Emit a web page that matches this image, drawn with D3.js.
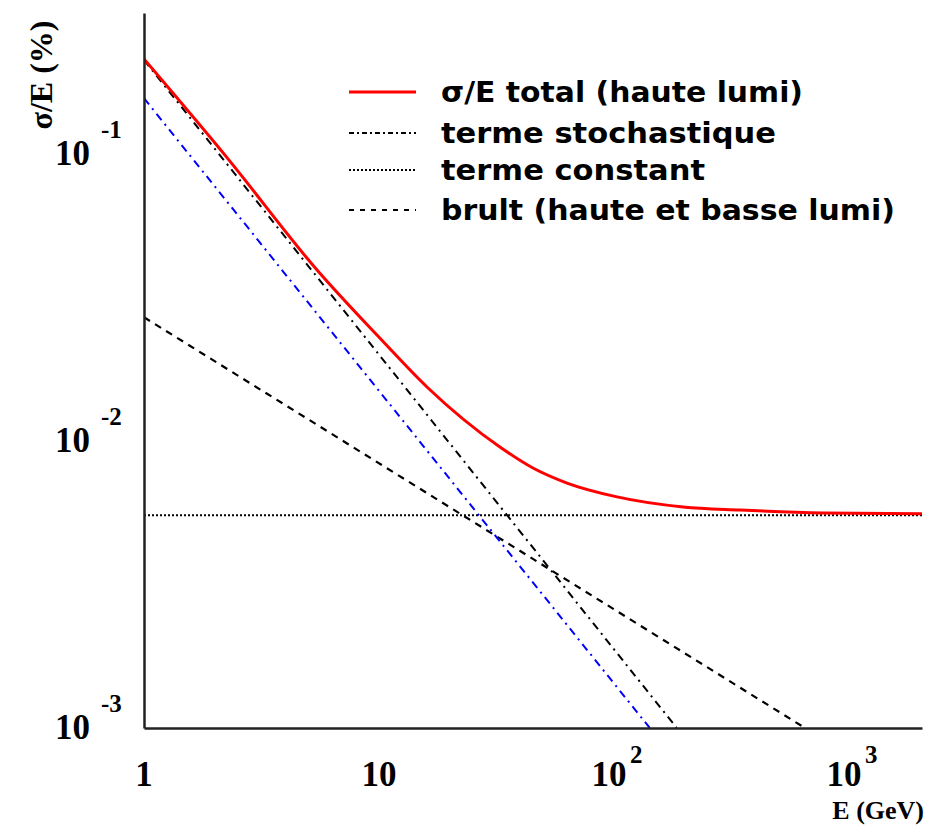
<!DOCTYPE html>
<html>
<head>
<meta charset="utf-8">
<script src="https://cdn.jsdelivr.net/npm/d3@7"></script>
<style>
  body { margin: 0; background: #fff; }
  .tick-lbl { font-family: "Liberation Serif", "Times New Roman", serif; font-weight: bold; fill: #000; }
  .legend-lbl { font-family: "DejaVu Sans", "Liberation Sans", Arial, sans-serif; font-weight: bold; fill: #000; }
</style>
</head>
<body>
<div id="chart"></div>
<script>
//svg size
var svgWidth = 930;
var svgHeight = 826;

//values (E in GeV, sigma/E)
const eTotal = [1, 2.26, 5.45, 10.1, 16.0, 32.7, 45.2, 63.1, 103, 197, 344, 775, 2045];
const sigmaTotal = [0.1945, 0.0880, 0.0358, 0.0207, 0.0140, 0.00865, 0.00731, 0.00648, 0.00580, 0.00535, 0.00522, 0.00510, 0.00507];

const eStoch = [1, 185];
const sigmaStoch = [0.193, 0.000908];

const eBlue = [1, 142];
const sigmaBlue = [0.142, 0.000908];

const eNoise = [1, 650];
const sigmaNoise = [0.0245, 0.000908];

const eConst = [1, 2045];
const sigmaConst = [0.005, 0.005];

//tick values
const xTicks = [1, 10, 100, 1000];
const xTickBase = ["1", "10", "10", "10"];
const xTickExp = ["", "", "2", "3"];
const yTicks = [0.1, 0.01, 0.001];
const yTickExp = ["-1", "-2", "-3"];

//legend entries
const legendLabels = ["σ/E total (haute lumi)", "terme stochastique", "terme constant", "brult (haute et basse lumi)"];

const svg = d3.select("#chart")
  .append("svg")
  .attr("width", svgWidth)
  .attr("height", svgHeight);

svg.append("rect").attr("width", svgWidth).attr("height", svgHeight).attr("fill", "#fff");

//log scales
const xScale = d3.scaleLog().domain([1, 2045]).range([144, 922]);
const yScale = d3.scaleLog().domain([0.000908, 0.2814]).range([728, 13]);

//clip to the frame
svg.append("clipPath").attr("id", "frame")
  .append("rect").attr("x", 144).attr("y", 13).attr("width", 778).attr("height", 715);

const plot = svg.append("g").attr("clip-path", "url(#frame)");

function toPts(xs, ys) {
  return xs.map((x, i) => [x, ys[i]]);
}

const straight = d3.line()
  .x(d => xScale(d[0]))
  .y(d => yScale(d[1]));

const smooth = d3.line()
  .x(d => xScale(d[0]))
  .y(d => yScale(d[1]))
  .curve(d3.curveMonotoneX);

//constant term
plot.append("path")
  .attr("d", straight(toPts(eConst, sigmaConst)))
  .attr("fill", "none").attr("stroke", "#000").attr("stroke-width", 2)
  .attr("stroke-dasharray", "2,2");

//noise term
plot.append("path")
  .attr("d", straight(toPts(eNoise, sigmaNoise)))
  .attr("fill", "none").attr("stroke", "#000").attr("stroke-width", 2.2)
  .attr("stroke-dasharray", "7,6");

//blue dash-dot line
plot.append("path")
  .attr("d", straight(toPts(eBlue, sigmaBlue)))
  .attr("fill", "none").attr("stroke", "#0000ff").attr("stroke-width", 2)
  .attr("stroke-dasharray", "8,5,2,5");

//stochastic term
plot.append("path")
  .attr("d", straight(toPts(eStoch, sigmaStoch)))
  .attr("fill", "none").attr("stroke", "#000").attr("stroke-width", 2)
  .attr("stroke-dasharray", "8,5,2,5");

//total
plot.append("path")
  .attr("d", smooth(toPts(eTotal, sigmaTotal)))
  .attr("fill", "none").attr("stroke", "#ff0000").attr("stroke-width", 3);

//axes (lines only, labels drawn below)
svg.append("g")
  .attr("transform", "translate(0,728)")
  .call(d3.axisBottom(xScale).tickValues([]).tickSizeOuter(0))
  .select(".domain").attr("stroke", "#222").attr("stroke-width", 2.5);

svg.append("g")
  .attr("transform", "translate(144,0)")
  .call(d3.axisLeft(yScale).tickValues([]).tickSizeOuter(0))
  .select(".domain").attr("stroke", "#222").attr("stroke-width", 2.5);

//x tick labels
xTicks.forEach(function(v, i) {
  var px = xScale(v);
  if (xTickExp[i] === "") {
    svg.append("text").attr("class", "tick-lbl")
      .attr("x", px).attr("y", 786)
      .attr("text-anchor", "middle")
      .attr("font-size", 35)
      .text(xTickBase[i]);
  } else {
    svg.append("text").attr("class", "tick-lbl")
      .attr("x", px - 5).attr("y", 786)
      .attr("text-anchor", "middle")
      .attr("font-size", 35)
      .text(xTickBase[i]);
    svg.append("text").attr("class", "tick-lbl")
      .attr("x", px + 16).attr("y", 763)
      .attr("font-size", 25)
      .text(xTickExp[i]);
  }
});

//y tick labels
yTicks.forEach(function(v, i) {
  var py = yScale(v);
  svg.append("text").attr("class", "tick-lbl")
    .attr("x", 90).attr("y", py + 23)
    .attr("text-anchor", "end")
    .attr("font-size", 35)
    .text("10");
  svg.append("text").attr("class", "tick-lbl")
    .attr("x", 101).attr("y", py - 4)
    .attr("font-size", 25)
    .text(yTickExp[i]);
});

//axis titles
svg.append("text").attr("class", "tick-lbl")
  .attr("x", 924).attr("y", 819)
  .attr("text-anchor", "end")
  .attr("font-size", 26)
  .text("E (GeV)");

svg.append("text").attr("class", "tick-lbl")
  .attr("transform", "translate(52,75) rotate(-90)")
  .attr("text-anchor", "middle")
  .attr("font-size", 32)
  .text("σ/E (%)");

//legend
const legendY = [92, 133, 170, 210];
const legendWidths = [362, 335, 264, 454];
const legendStyles = [
  {stroke: "#ff0000", width: 3, dash: null},
  {stroke: "#000", width: 2, dash: "5,3,2,3"},
  {stroke: "#000", width: 2, dash: "2,2"},
  {stroke: "#000", width: 2, dash: "5,6"}
];

legendLabels.forEach(function(lbl, i) {
  var ln = svg.append("line")
    .attr("x1", 349).attr("x2", 416)
    .attr("y1", legendY[i]).attr("y2", legendY[i])
    .attr("stroke", legendStyles[i].stroke)
    .attr("stroke-width", legendStyles[i].width);
  if (legendStyles[i].dash) ln.attr("stroke-dasharray", legendStyles[i].dash);

  svg.append("text").attr("class", "legend-lbl")
    .attr("x", 441).attr("y", legendY[i] + 10)
    .attr("font-size", 28)
    .attr("textLength", legendWidths[i])
    .attr("lengthAdjust", "spacingAndGlyphs")
    .text(lbl);
});
</script>
</body>
</html>
